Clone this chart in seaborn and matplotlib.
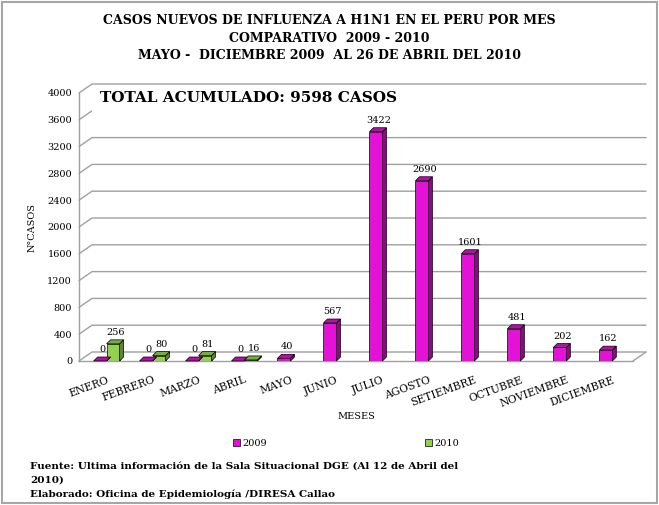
import numpy as np
import pandas as pd
import matplotlib.pyplot as plt
import seaborn as sns
from matplotlib.patches import Polygon, Rectangle
from matplotlib.lines import Line2D

months = ['ENERO', 'FEBRERO', 'MARZO', 'ABRIL', 'MAYO', 'JUNIO', 'JULIO',
          'AGOSTO', 'SETIEMBRE', 'OCTUBRE', 'NOVIEMBRE', 'DICIEMBRE']
casos_2009 = [0, 0, 0, 0, 40, 567, 3422, 2690, 1601, 481, 202, 162]
casos_2010 = [256, 80, 81, 16, None, None, None, None, None, None, None, None]
years = ['2009', '2010']
yticks = list(range(0, 4001, 400))

colors = {'2009': '#E312D6', '2010': '#92D050'}
side_colors = {'2009': '#8A0A80', '2010': '#5C8A2C'}
top_colors = {'2009': '#B50FAA', '2010': '#76AE3C'}

df = pd.DataFrame({
    'mes': months * 2,
    'anio': ['2009'] * 12 + ['2010'] * 12,
    'casos': casos_2009 + casos_2010,
})

sns.set_style('white')
plt.rcParams['font.family'] = ['DejaVu Serif']
plt.rcParams['text.color'] = 'black'
plt.rcParams['axes.labelcolor'] = 'black'
plt.rcParams['xtick.color'] = 'black'
plt.rcParams['ytick.color'] = 'black'

fig = plt.figure(figsize=(6.59, 5.05), dpi=100)
ax = fig.add_axes([79 / 659, 1 - 361 / 505, (633 - 79) / 659, 268 / 505])

sns.barplot(data=df, x='mes', y='casos', hue='anio', hue_order=years,
            palette=colors, saturation=1, width=0.565, gap=0,
            edgecolor='black', linewidth=0.5, ax=ax, legend=False, zorder=3)

ax.set_xlim(-0.6, 11.45)
ax.set_ylim(0, 4000)
ax.set_yticks(yticks)
ax.tick_params(axis='y', labelsize=7, length=3, color='#A0A0A0', pad=2)
ax.tick_params(axis='x', length=0, pad=10)
ax.set_xticks(range(len(months)))
ax.set_xticklabels(months, rotation=20, ha='right', rotation_mode='anchor',
                   fontsize=7.7)
for s in ['top', 'right']:
    ax.spines[s].set_visible(False)
for s in ['left', 'bottom']:
    ax.spines[s].set_color('#A0A0A0')
    ax.spines[s].set_linewidth(1)
ax.set_xlabel('MESES', fontsize=7, labelpad=2)
ax.set_ylabel('N°CASOS', fontsize=7, labelpad=8)

to_disp = ax.transData.transform
to_data = ax.transData.inverted().transform

# back wall / floor depth in pixels
DX, DY = 13, 9
x0, x1 = ax.get_xlim()
gray = '#A0A0A0'
for yv in yticks:
    a = to_disp((x0, yv))
    b = to_disp((x1, yv))
    pts = to_data([a, a + [DX, DY], b + [DX, DY]])
    ax.add_line(Line2D(pts[:, 0], pts[:, 1], color=gray, lw=1,
                       zorder=1, clip_on=False))
# floor right edge
b = to_disp((x1, 0))
pts = to_data([b, b + [DX, DY]])
ax.add_line(Line2D(pts[:, 0], pts[:, 1], color=gray, lw=1, zorder=1,
                   clip_on=False))

# 3D faces of bars
dx, dy = 4, 4
for year, cont in zip(years, ax.containers):
    for p in cont:
        h = p.get_height()
        if h is None or np.isnan(h):
            continue
        xl = p.get_x()
        xr = xl + p.get_width()
        br = to_disp((xr, 0))
        tl, tr = to_disp((xl, h)), to_disp((xr, h))
        side = to_data([br, tr, tr + [dx, dy], br + [dx, dy]])
        top = to_data([tl, tr, tr + [dx, dy], tl + [dx, dy]])
        ax.add_patch(Polygon(side, closed=True, facecolor=side_colors[year],
                             edgecolor='black', lw=0.5, zorder=3,
                             clip_on=False))
        ax.add_patch(Polygon(top, closed=True, facecolor=top_colors[year],
                             edgecolor='black', lw=0.5, zorder=3,
                             clip_on=False))
        ax.annotate(f'{int(h)}', (xl + p.get_width() / 2, h),
                    xytext=(2, 5), textcoords='offset points',
                    ha='center', va='bottom', fontsize=7, zorder=5)

# white box behind total
ax.add_patch(Rectangle((92 / 659, 1 - 115 / 505), (652 - 92) / 659,
                       29 / 505, transform=fig.transFigure,
                       facecolor='white', edgecolor='none', zorder=2,
                       clip_on=False))
ax.text(100 / 659, 1 - 98 / 505, 'TOTAL ACUMULADO: 9598 CASOS',
        transform=fig.transFigure, fontsize=11, fontweight='bold',
        va='center', ha='left', zorder=4)

title = ('CASOS NUEVOS DE INFLUENZA A H1N1 EN EL PERU POR MES\n'
         'COMPARATIVO  2009 - 2010\n'
         'MAYO -  DICIEMBRE 2009  AL 26 DE ABRIL DEL 2010')
fig.text(0.5, 1 - 14 / 505, title, ha='center', va='top', fontsize=9,
         fontweight='bold', linespacing=1.45)

# legend
handles = [Rectangle((0, 0), 1, 1, facecolor=colors[y], edgecolor='black',
                     lw=0.5) for y in years]
fig.legend(handles, years, loc='center', bbox_to_anchor=(346 / 659, 1 - 443 / 505),
           ncol=2, frameon=False, fontsize=7, handlelength=0.7,
           handleheight=0.7, handletextpad=0.2, columnspacing=16.3)

foot = ('Fuente: Ultima información de la Sala Situacional DGE (Al 12 de Abril del\n'
        '2010)\n'
        'Elaborado: Oficina de Epidemiología /DIRESA Callao')
fig.text(30 / 659, 1 - 462 / 505, foot, ha='left', va='top', fontsize=7.5,
         fontweight='bold', linespacing=1.65)

fig.patches.append(Rectangle((2 / 659, 2 / 505), 655 / 659, 501 / 505,
                             transform=fig.transFigure, fill=False,
                             edgecolor='#A6A6A6', lw=1.5))

fig.savefig('out.png', dpi=100)
